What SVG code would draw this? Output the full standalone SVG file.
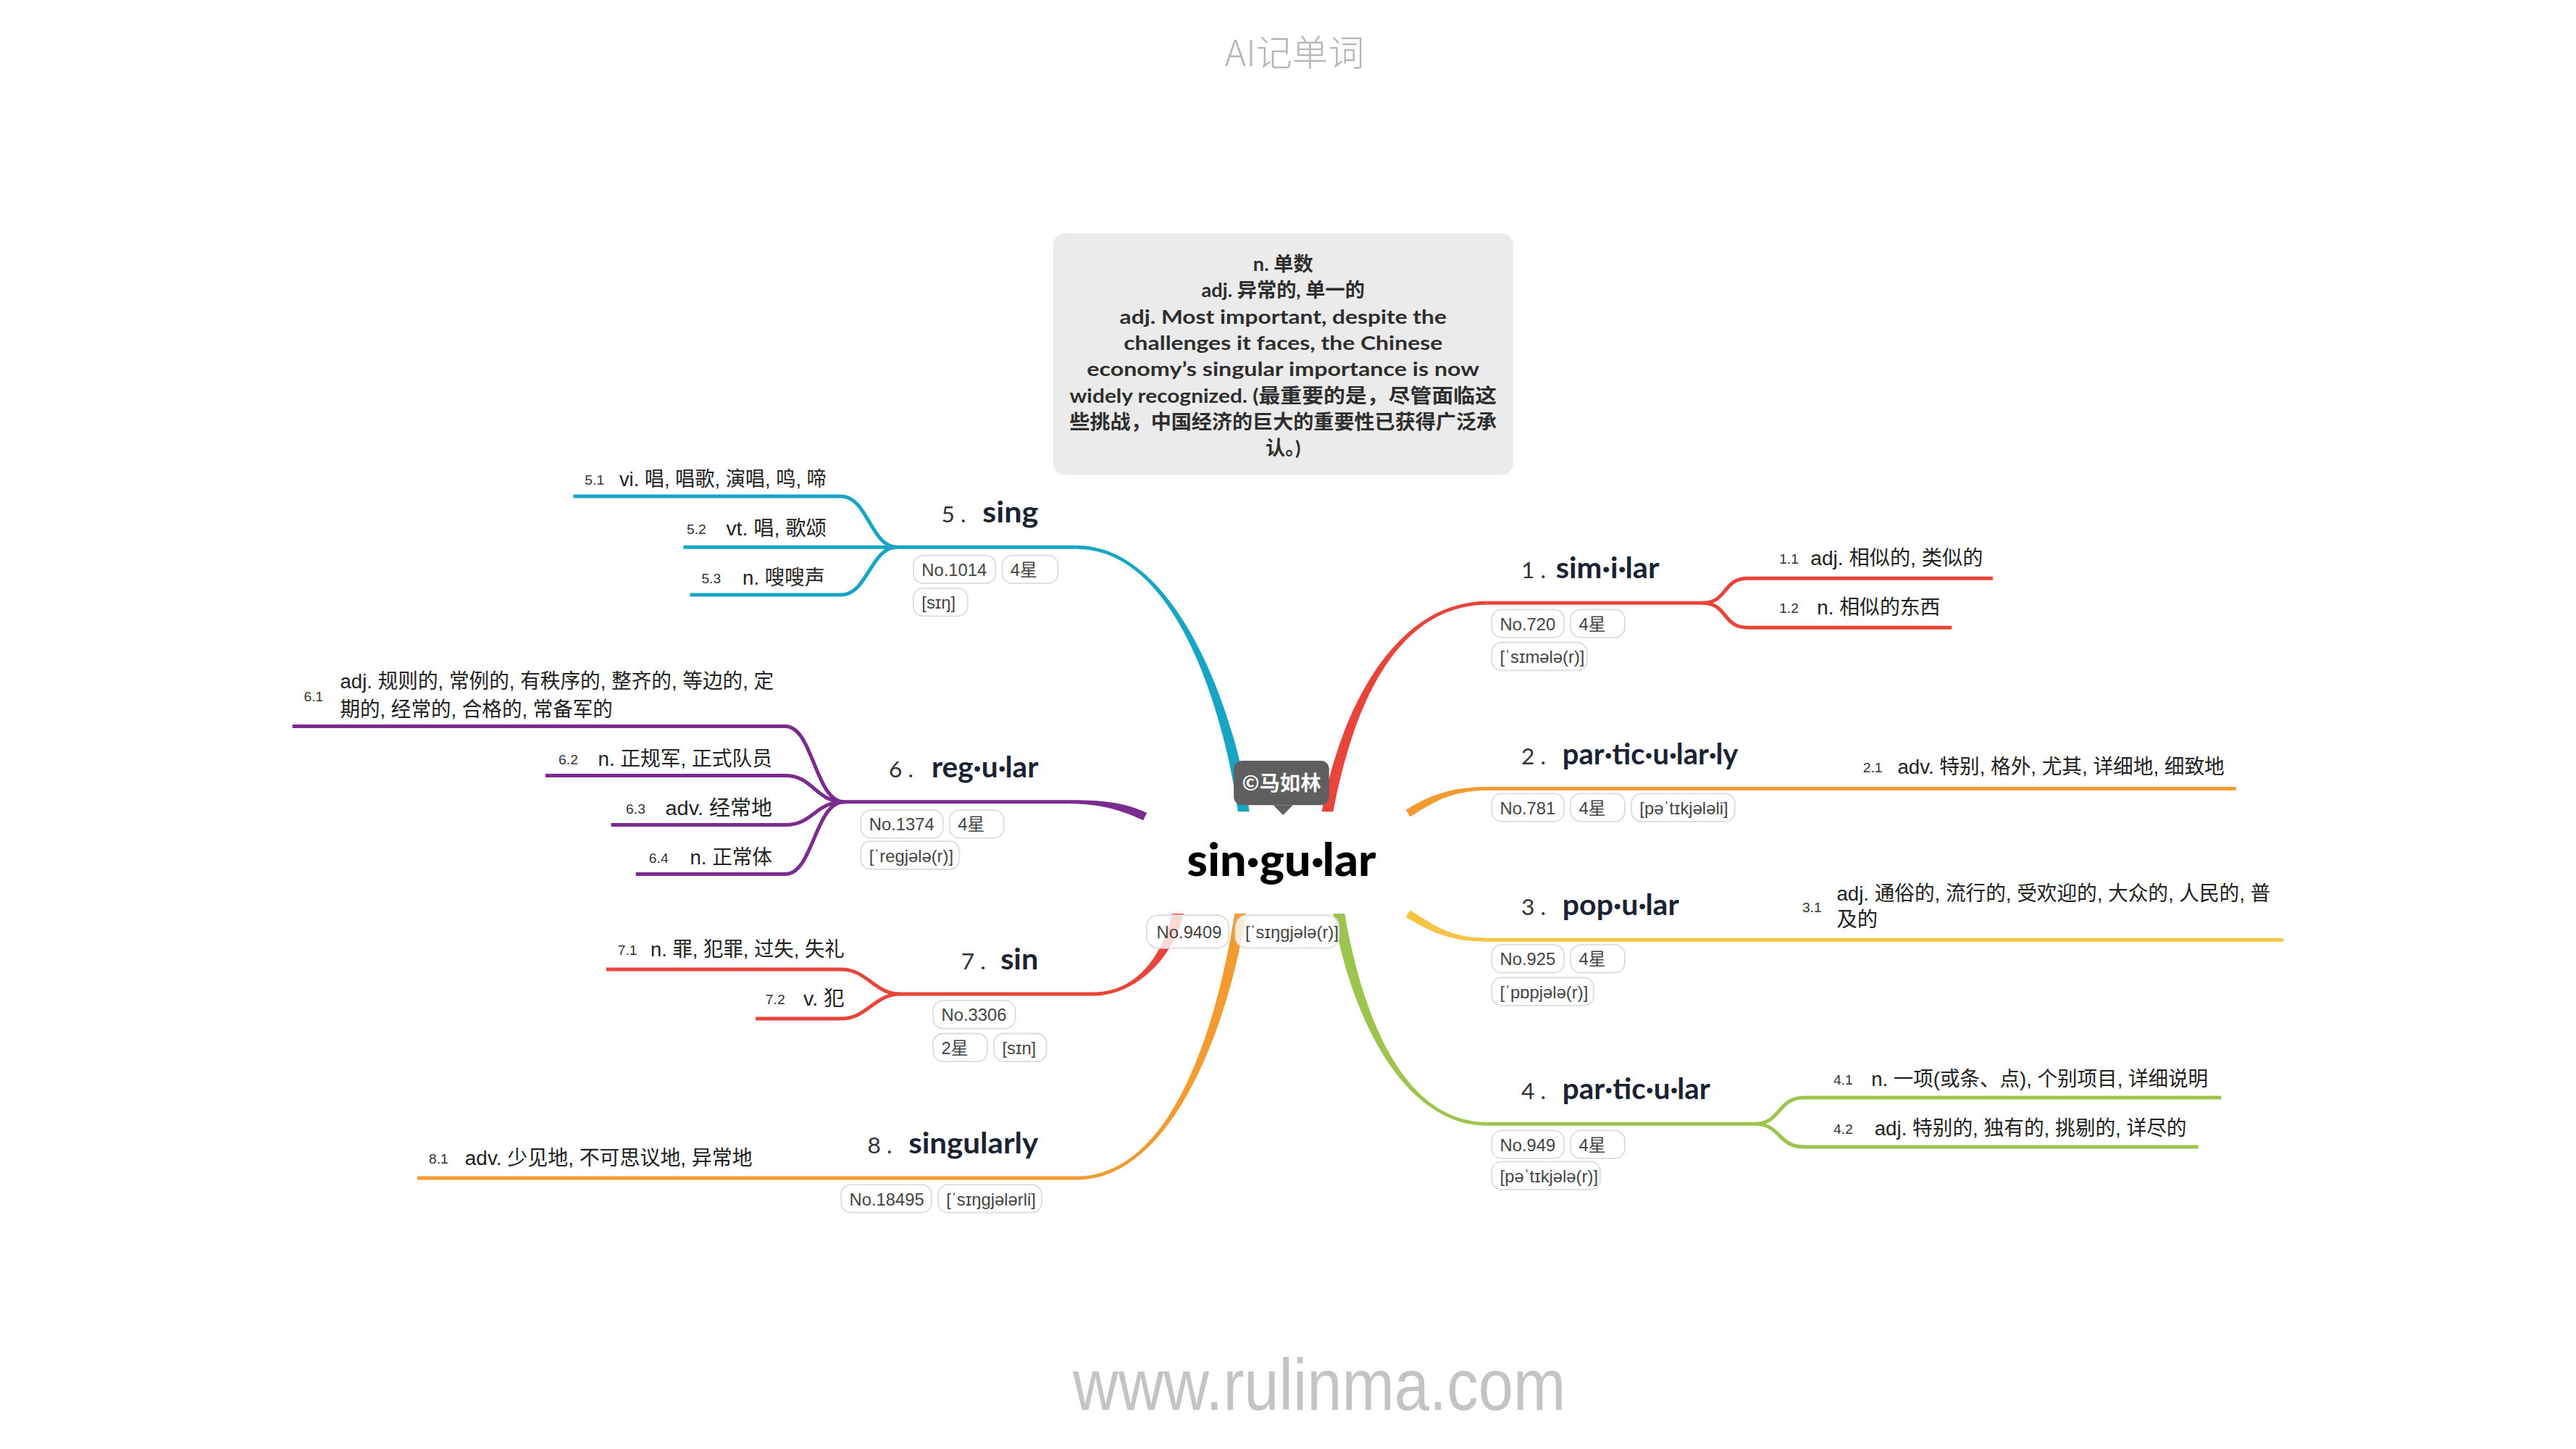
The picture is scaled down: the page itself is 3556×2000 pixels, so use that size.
<svg xmlns="http://www.w3.org/2000/svg" width="3556" height="2000" viewBox="0 0 3556 2000">
<style>
.def{font-family:"Liberation Sans Narrow","Liberation Sans","Noto Sans CJK SC",sans-serif;font-size:12.5px;fill:#222}
.num{font-family:"Liberation Sans Narrow","Liberation Sans",sans-serif;font-size:8.5px;fill:#333}
.ttl{font-family:Lato,"Liberation Sans",sans-serif;font-weight:bold;font-size:18px;fill:#1b2332}
.idx{font-family:Lato,"Liberation Sans",sans-serif;font-size:14px;fill:#333}
.pill{fill:#fff;fill-opacity:.8;stroke:#dcdcdc;stroke-width:.8}
.pt{font-family:"Liberation Sans Narrow","Liberation Sans","Noto Sans CJK SC",sans-serif;font-size:10.5px;fill:#444}
.ln{fill:none;stroke-width:2.2;stroke-linecap:butt}
.box{font-family:Lato,"Noto Sans CJK SC",sans-serif;font-weight:bold;font-size:12px;fill:#2e2e2e;text-anchor:middle}
</style>
<rect width="3556" height="2000" fill="#fff"/>
<g transform="scale(2.2679)">
<text x="788" y="40" text-anchor="middle" font-family="'Noto Sans CJK SC',sans-serif" font-weight="300" font-size="22" fill="#b5b5b5">AI记单词</text>
<text x="803" y="858" text-anchor="middle" font-family="'Liberation Sans',sans-serif" font-size="44" fill="#c4c4c4" textLength="300" lengthAdjust="spacingAndGlyphs">www.rulinma.com</text>

<g id="connectors">
  <path fill="#17a5c6" d="M760.5,494 C751.5,430 715,331.9 655,331.9 L655,334.1 C715,334.1 744.5,430 753.5,494 Z"/>
  <path fill="#7b2a8f" d="M698.1,494.7 C683.1,487.7 668,486.9 650,486.9 L650,489.1 C668,489.1 680.9,492.3 695.9,499.3 Z"/>
  <path fill="#e8443a" d="M720.5,556 C713.5,585 690,606.1 665,606.1 L665,603.9 C690,603.9 706.5,585 713.5,556 Z"/>
  <path fill="#f39a30" d="M758.5,556 C748.5,620 715,718.1 655,718.1 L655,715.9 C715,715.9 741.5,620 751.5,556 Z"/>
  <path fill="#e8443a" d="M804.5,494 C816.5,430 850,365.9 905,365.9 L905,368.1 C850,368.1 823.5,430 811.5,494 Z"/>
  <path fill="#f39a30" d="M855.7,492.9 C868.7,484.9 882,478.9 905,478.9 L905,481.1 C882,481.1 871.3,489.1 858.3,497.1 Z"/>
  <path fill="#f6c445" d="M858.3,553.9 C871.3,561.9 882,570.9 905,570.9 L905,573.1 C882,573.1 868.7,566.1 855.7,558.1 Z"/>
  <path fill="#9dc44d" d="M811.5,556 C822.5,620 855,685.1 905,685.1 L905,682.9 C855,682.9 829.5,620 818.5,556 Z"/>
  <g stroke="#17a5c6" class="ln">
    <path d="M655,333 L546,333"/>
    <path d="M546,333 C530,333 528,302 512,302 L349,302"/>
    <path d="M546,333 L416,333"/>
    <path d="M546,333 C530,333 528,362 512,362 L420,362"/>
  </g>
  <g stroke="#7b2a8f" class="ln">
    <path d="M650,488 L514,488"/>
    <path d="M514,488 C496,488 495,442 478,442 L178,442"/>
    <path d="M514,488 C496,488 495,472 478,472 L332,472"/>
    <path d="M514,488 C496,488 495,502 478,502 L372,502"/>
    <path d="M514,488 C496,488 495,532 478,532 L387,532"/>
  </g>
  <g stroke="#e8443a" class="ln">
    <path d="M665,605 L548,605"/>
    <path d="M548,605 C532,605 528,590 512,590 L369,590"/>
    <path d="M548,605 C532,605 528,620 512,620 L460,620"/>
  </g>
  <path stroke="#f39a30" class="ln" d="M655,717 L254,717"/>
  <g stroke="#e8443a" class="ln">
    <path d="M905,367 L1036,367"/>
    <path d="M1036,367 C1052,367 1048,352 1064,352 L1213,352"/>
    <path d="M1036,367 C1052,367 1048,382 1064,382 L1188,382"/>
  </g>
  <path stroke="#f39a30" class="ln" d="M905,480 L1361,480"/>
  <path stroke="#f6c445" class="ln" d="M905,572 L1390,572"/>
  <g stroke="#9dc44d" class="ln">
    <path d="M905,684 L1068,684"/>
    <path d="M1068,684 C1084,684 1082,668 1098,668 L1352,668"/>
    <path d="M1068,684 C1084,684 1082,698 1098,698 L1338,698"/>
  </g>
</g>

<g id="definition">
  <rect x="641" y="142" width="280" height="147" rx="7" fill="#ebebeb"/>
  <text class="box" x="781" y="165">n. 单数</text>
  <text class="box" x="781" y="181">adj. 异常的, 单一的</text>
  <text class="box" x="781" y="197" textLength="199" lengthAdjust="spacingAndGlyphs">adj. Most important, despite the</text>
  <text class="box" x="781" y="213" textLength="194" lengthAdjust="spacingAndGlyphs">challenges it faces, the Chinese</text>
  <text class="box" x="781" y="229" textLength="239" lengthAdjust="spacingAndGlyphs">economy’s singular importance is now</text>
  <text class="box" x="781" y="245" textLength="260" lengthAdjust="spacingAndGlyphs">widely recognized. (最重要的是，尽管面临这</text>
  <text class="box" x="781" y="261" textLength="260" lengthAdjust="spacingAndGlyphs">些挑战，中国经济的巨大的重要性已获得广泛承</text>
  <text class="box" x="781" y="277">认。)</text>
</g>

<g id="center">
  <rect x="751" y="463" width="58" height="27" rx="5" fill="#5f5f5f"/>
  <path d="M775,490 L787,490 L781,496 Z" fill="#5f5f5f"/>
  <text x="780" y="481" text-anchor="middle" font-family="'Noto Sans CJK SC',sans-serif" font-weight="bold" font-size="12.5" fill="#fff">©马如林</text>
  <text x="780" y="533" text-anchor="middle" font-family="Lato,'Liberation Sans',sans-serif" font-weight="900" font-size="28" fill="#000" textLength="115" lengthAdjust="spacingAndGlyphs">sin·gu·lar</text>
  <rect class="pill" x="698" y="557" width="50" height="20" rx="7"/>
  <text class="pt" x="704" y="571" font-family="'Liberation Sans',sans-serif">No.9409</text>
  <rect class="pill" x="752" y="557" width="63" height="20" rx="7"/>
  <text class="pt" x="758" y="571" font-family="'Liberation Sans',sans-serif">[ˈsɪŋgjələ(r)]</text>
</g>

<g id="node-1">
  <text class="idx" x="926" y="352">1 .</text>
  <text class="ttl" x="947" y="352" textLength="63" lengthAdjust="spacingAndGlyphs">sim·i·lar</text>
  <rect class="pill" x="908" y="371" width="44" height="17" rx="6"/><text class="pt" x="913" y="383.5">No.720</text>
  <rect class="pill" x="956" y="371" width="33" height="17" rx="6"/><text class="pt" x="961" y="383.5">4星</text>
  <rect class="pill" x="908" y="391" width="58" height="17" rx="6"/><text class="pt" x="913" y="403.5">[ˈsɪmələ(r)]</text>
  <text class="num" x="1083" y="343">1.1</text>
  <text class="def" x="1102" y="344" textLength="105" lengthAdjust="spacingAndGlyphs">adj. 相似的, 类似的</text>
  <text class="num" x="1083" y="373">1.2</text>
  <text class="def" x="1106" y="374" textLength="75" lengthAdjust="spacingAndGlyphs">n. 相似的东西</text>
</g>

<g id="node-2">
  <text class="idx" x="926" y="465">2 .</text>
  <text class="ttl" x="951" y="465" textLength="107" lengthAdjust="spacingAndGlyphs">par·tic·u·lar·ly</text>
  <rect class="pill" x="908" y="483" width="44" height="17" rx="6"/><text class="pt" x="913" y="495.5">No.781</text>
  <rect class="pill" x="956" y="483" width="33" height="17" rx="6"/><text class="pt" x="961" y="495.5">4星</text>
  <rect class="pill" x="993" y="483" width="63" height="17" rx="6"/><text class="pt" x="998" y="495.5">[pəˈtɪkjələli]</text>
  <text class="num" x="1134" y="470">2.1</text>
  <text class="def" x="1155" y="471" textLength="199" lengthAdjust="spacingAndGlyphs">adv. 特别, 格外, 尤其, 详细地, 细致地</text>
</g>

<g id="node-3">
  <text class="idx" x="926" y="557">3 .</text>
  <text class="ttl" x="951" y="557" textLength="71" lengthAdjust="spacingAndGlyphs">pop·u·lar</text>
  <rect class="pill" x="908" y="575" width="44" height="17" rx="6"/><text class="pt" x="913" y="587.5">No.925</text>
  <rect class="pill" x="956" y="575" width="33" height="17" rx="6"/><text class="pt" x="961" y="587.5">4星</text>
  <rect class="pill" x="908" y="595" width="62" height="17" rx="6"/><text class="pt" x="913" y="607.5">[ˈpɒpjələ(r)]</text>
  <text class="num" x="1097" y="555">3.1</text>
  <text class="def" x="1118" y="548" textLength="264" lengthAdjust="spacingAndGlyphs">adj. 通俗的, 流行的, 受欢迎的, 大众的, 人民的, 普</text>
  <text class="def" x="1118" y="564">及的</text>
</g>

<g id="node-4">
  <text class="idx" x="926" y="669">4 .</text>
  <text class="ttl" x="951" y="669" textLength="90" lengthAdjust="spacingAndGlyphs">par·tic·u·lar</text>
  <rect class="pill" x="908" y="688" width="44" height="17" rx="6"/><text class="pt" x="913" y="700.5">No.949</text>
  <rect class="pill" x="956" y="688" width="33" height="17" rx="6"/><text class="pt" x="961" y="700.5">4星</text>
  <rect class="pill" x="908" y="707" width="66" height="17" rx="6"/><text class="pt" x="913" y="719.5">[pəˈtɪkjələ(r)]</text>
  <text class="num" x="1116" y="660">4.1</text>
  <text class="def" x="1139" y="661" textLength="205" lengthAdjust="spacingAndGlyphs">n. 一项(或条、点), 个别项目, 详细说明</text>
  <text class="num" x="1116" y="690">4.2</text>
  <text class="def" x="1141" y="691" textLength="190" lengthAdjust="spacingAndGlyphs">adj. 特别的, 独有的, 挑剔的, 详尽的</text>
</g>

<g id="node-5">
  <text class="idx" x="573" y="318">5 .</text>
  <text class="ttl" x="598" y="318" textLength="34" lengthAdjust="spacingAndGlyphs">sing</text>
  <rect class="pill" x="556" y="338" width="50" height="17" rx="6"/><text class="pt" x="561" y="350.5">No.1014</text>
  <rect class="pill" x="610" y="338" width="34" height="17" rx="6"/><text class="pt" x="615" y="350.5">4星</text>
  <rect class="pill" x="556" y="358" width="33" height="17" rx="6"/><text class="pt" x="561" y="370.5">[sɪŋ]</text>
  <text class="num" x="356" y="295">5.1</text>
  <text class="def" x="377" y="296" textLength="126" lengthAdjust="spacingAndGlyphs">vi. 唱, 唱歌, 演唱, 鸣, 啼</text>
  <text class="num" x="418" y="325">5.2</text>
  <text class="def" x="442" y="326" textLength="61" lengthAdjust="spacingAndGlyphs">vt. 唱, 歌颂</text>
  <text class="num" x="427" y="355">5.3</text>
  <text class="def" x="452" y="356" textLength="50" lengthAdjust="spacingAndGlyphs">n. 嗖嗖声</text>
</g>

<g id="node-6">
  <text class="idx" x="541" y="473">6 .</text>
  <text class="ttl" x="567" y="473" textLength="65" lengthAdjust="spacingAndGlyphs">reg·u·lar</text>
  <rect class="pill" x="524" y="493" width="50" height="17" rx="6"/><text class="pt" x="529" y="505.5">No.1374</text>
  <rect class="pill" x="578" y="493" width="33" height="17" rx="6"/><text class="pt" x="583" y="505.5">4星</text>
  <rect class="pill" x="524" y="512" width="60" height="17" rx="6"/><text class="pt" x="529" y="524.5">[ˈregjələ(r)]</text>
  <text class="num" x="185" y="427">6.1</text>
  <text class="def" x="207" y="419" textLength="264" lengthAdjust="spacingAndGlyphs">adj. 规则的, 常例的, 有秩序的, 整齐的, 等边的, 定</text>
  <text class="def" x="207" y="436" textLength="166" lengthAdjust="spacingAndGlyphs">期的, 经常的, 合格的, 常备军的</text>
  <text class="num" x="340" y="465">6.2</text>
  <text class="def" x="364" y="466" textLength="106" lengthAdjust="spacingAndGlyphs">n. 正规军, 正式队员</text>
  <text class="num" x="381" y="495">6.3</text>
  <text class="def" x="405" y="496" textLength="65" lengthAdjust="spacingAndGlyphs">adv. 经常地</text>
  <text class="num" x="395" y="525">6.4</text>
  <text class="def" x="420" y="526" textLength="50" lengthAdjust="spacingAndGlyphs">n. 正常体</text>
</g>

<g id="node-7">
  <text class="idx" x="585" y="590">7 .</text>
  <text class="ttl" x="609" y="590" textLength="23" lengthAdjust="spacingAndGlyphs">sin</text>
  <rect class="pill" x="568" y="609" width="50" height="17" rx="6"/><text class="pt" x="573" y="621.5">No.3306</text>
  <rect class="pill" x="568" y="629" width="33" height="17" rx="6"/><text class="pt" x="573" y="641.5">2星</text>
  <rect class="pill" x="605" y="629" width="32" height="17" rx="6"/><text class="pt" x="610" y="641.5">[sɪn]</text>
  <text class="num" x="376" y="581">7.1</text>
  <text class="def" x="396" y="582" textLength="118" lengthAdjust="spacingAndGlyphs">n. 罪, 犯罪, 过失, 失礼</text>
  <text class="num" x="466" y="611">7.2</text>
  <text class="def" x="489" y="612" textLength="25" lengthAdjust="spacingAndGlyphs">v. 犯</text>
</g>

<g id="node-8">
  <text class="idx" x="528" y="702">8 .</text>
  <text class="ttl" x="553" y="702" textLength="79" lengthAdjust="spacingAndGlyphs">singularly</text>
  <rect class="pill" x="512" y="721" width="55" height="17" rx="6"/><text class="pt" x="517" y="733.5">No.18495</text>
  <rect class="pill" x="571" y="721" width="63" height="17" rx="6"/><text class="pt" x="576" y="733.5">[ˈsɪŋgjələrli]</text>
  <text class="num" x="261" y="708">8.1</text>
  <text class="def" x="283" y="709" textLength="175" lengthAdjust="spacingAndGlyphs">adv. 少见地, 不可思议地, 异常地</text>
</g>
</g>
</svg>
